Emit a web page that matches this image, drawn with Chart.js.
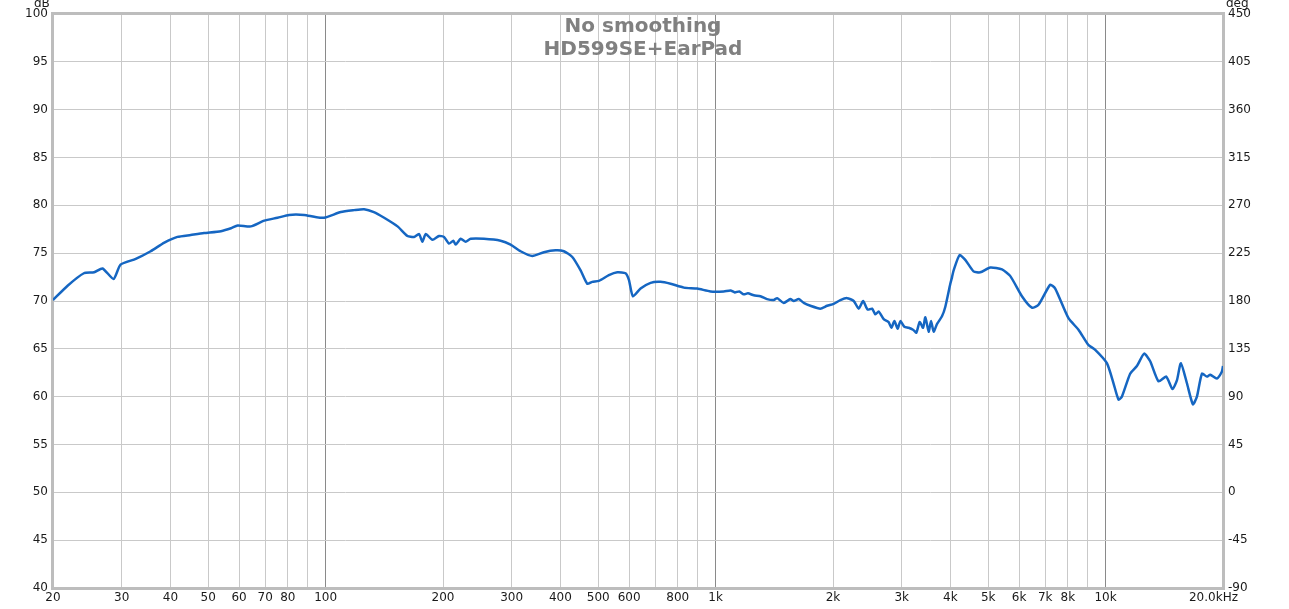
<!DOCTYPE html>
<html>
<head>
<meta charset="utf-8">
<script src="https://cdn.jsdelivr.net/npm/chart.js@4/dist/chart.umd.min.js"></script>
<style>
html,body{margin:0;padding:0;background:#fff;}
canvas{display:block;}
</style>
</head>
<body>
<canvas id="c" width="1289" height="609"></canvas>
<script>
// ---- data ----
const titleLines = ["No smoothing", "HD599SE+EarPad"];
const freqs = [20,21.8,24,25.5,26.8,28.6,29.8,32.6,35.6,38.6,41.7,45.1,48.8,53.9,57.2,59.5,64.3,69.6,75.3,80.6,88.1,93.5,99.1,109.4,118.3,125.5,133,141.3,152.9,162.1,168.6,173.6,177.1,180.6,187.9,195.3,201.2,207.2,212.6,215.5,222,228.6,235.5,254.7,281,298.1,316.2,338.9,362.9,388.9,408.3,429.1,450.7,468.8,482.8,502,532.6,559.7,587.8,599.4,613.6,642.1,681.2,722.6,766.6,829.2,897.3,970.5,1050,1092,1120,1150,1181,1210,1253,1303,1355,1409,1438,1495,1555,1586,1634,1683,1750,1856,1932,2008,2089,2174,2260,2328,2389,2454,2520,2569,2619,2698,2778,2823,2874,2930,2977,3048,3126,3208,3272,3336,3404,3450,3518,3568,3623,3697,3806,3882,3998,4039,4077,4222,4367,4585,4771,5062,5425,5698,6102,6472,6730,7211,7427,8033,8521,9039,9406,10077,10478,10792,11008,11561,12029,12558,13012,13666,14300,14843,15234,15598,16164,16744,17145,17659,18187,18546,19292,19860,20000];
const spl = [70.1,71.6,72.9,73.0,73.4,72.3,73.8,74.4,75.2,76.1,76.7,76.9,77.1,77.3,77.6,77.9,77.8,78.4,78.7,79.0,79.0,78.8,78.7,79.3,79.5,79.6,79.3,78.7,77.8,76.8,76.7,77.0,76.2,77.0,76.4,76.8,76.7,76.0,76.3,75.9,76.5,76.2,76.5,76.5,76.3,75.9,75.2,74.7,75.1,75.3,75.2,74.6,73.2,71.8,72.0,72.1,72.7,73.0,72.9,72.2,70.5,71.3,71.9,72.0,71.8,71.4,71.3,71.0,71.0,71.1,70.9,71.0,70.7,70.8,70.6,70.5,70.2,70.1,70.3,69.8,70.2,70.0,70.2,69.8,69.5,69.2,69.5,69.7,70.1,70.3,70.0,69.2,70.0,69.1,69.2,68.6,68.9,68.1,67.8,67.2,67.9,67.1,67.9,67.3,67.2,67.0,66.7,67.8,67.2,68.3,66.8,67.9,66.8,67.6,68.4,69.4,71.8,72.5,73.2,74.8,74.3,73.1,73.0,73.5,73.3,72.6,70.5,69.3,69.6,71.7,71.3,68.2,67.0,65.4,64.9,63.5,61.4,59.7,60.0,62.4,63.2,64.5,63.7,61.6,62.1,60.8,61.7,63.5,61.4,59.2,60.0,62.4,62.1,62.3,61.9,62.6,63.2];
const xGridFreqs = [20,30,40,50,60,70,80,90,100,200,300,400,500,600,700,800,900,1000,2000,3000,4000,5000,6000,7000,8000,9000,10000,20000];
const xTickLabels = ["20","30","40","50","60","70","80","","100","200","300","400","500","600","","800","","1k","2k","3k","4k","5k","6k","7k","8k","","10k","20.0kHz     "];
const decadeLines = [100,1000,10000];
const dbMin = 40, dbMax = 100, dbStep = 5;
const degMin = -90, degMax = 450, degStep = 45;

Chart.defaults.font.family = "'DejaVu Sans', sans-serif";
Chart.defaults.font.size = 12;
Chart.defaults.color = "#1a1a1a";

const overlay = {
  id: "overlay",
  beforeDatasetsDraw(chart) {
    const {ctx, chartArea: a} = chart;
    ctx.save();
    ctx.strokeStyle = "#bdbdbd";
    ctx.lineWidth = 3;
    ctx.strokeRect(a.left - 0.5, a.top - 0.5, a.right - a.left + 1, a.bottom - a.top + 1);
    ctx.restore();
  },
  afterDraw(chart) {
    const {ctx, chartArea: a} = chart;
    ctx.save();
    ctx.fillStyle = "#808080";
    ctx.font = "bold 20px 'DejaVu Sans'";
    ctx.textAlign = "center";
    ctx.textBaseline = "alphabetic";
    const cx = (a.left + a.right) / 2 + 5;
    ctx.fillText(titleLines[0], cx, 32);
    ctx.fillText(titleLines[1], cx, 55);
    ctx.fillStyle = "#1a1a1a";
    ctx.font = "12px 'DejaVu Sans'";
    ctx.textAlign = "left";
    ctx.textBaseline = "bottom";
    ctx.fillText("dB", 34, 10);
    ctx.fillText("deg", a.right + 3, 10);
    ctx.restore();
  }
};

new Chart(document.getElementById("c"), {
  type: "line",
  data: {
    datasets: [{
      data: freqs.map((f, i) => ({x: f, y: spl[i]})),
      borderColor: "#1566c2",
      borderWidth: 2.5,
      pointRadius: 0,
      tension: 0.2,
      fill: false
    }]
  },
  options: {
    responsive: false,
    animation: false,
    devicePixelRatio: 1,
    layout: {padding: {top: 14, left: 0, right: 0, bottom: 0}},
    plugins: {legend: {display: false}, tooltip: {enabled: false}},
    scales: {
      x: {
        type: "logarithmic",
        min: 20, max: 20000,
        afterBuildTicks(scale) { scale.ticks = xGridFreqs.map(v => ({value: v})); },
        afterFit(scale) { scale.height = 21; },
        ticks: {
          autoSkip: false, maxRotation: 0, padding: 3,
          callback(value, index) { return xTickLabels[index]; }
        },
        grid: {
          drawTicks: false,
          color(ctx) { return ctx.tick && decadeLines.includes(ctx.tick.value) ? "#8a8a8a" : "#c9c9c9"; },
          lineWidth: 1
        },
        border: {display: false}
      },
      y: {
        position: "left",
        min: dbMin, max: dbMax,
        afterFit(scale) { scale.width = 53; },
        ticks: {stepSize: dbStep, padding: 5},
        grid: {drawTicks: false, color: "#c9c9c9", lineWidth: 1},
        border: {display: false}
      },
      y2: {
        position: "right",
        min: degMin, max: degMax,
        afterFit(scale) { scale.width = 66; },
        ticks: {stepSize: degStep, padding: 5},
        grid: {drawOnChartArea: false, drawTicks: false},
        border: {display: false}
      }
    }
  },
  plugins: [overlay]
});
</script>
</body>
</html>
